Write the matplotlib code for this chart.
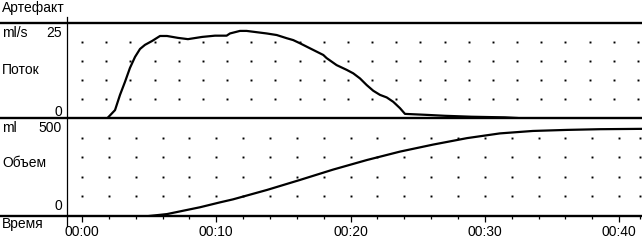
import numpy as np
import matplotlib
matplotlib.use("Agg")
import matplotlib.pyplot as plt
from matplotlib.lines import Line2D

plt.rcParams['font.family'] = ['Liberation Sans', 'DejaVu Sans']

# ---- data ----
flow_t = [1.9, 2.46, 2.83, 3.2, 3.57, 3.95, 4.32, 4.69, 5.21, 5.81, 6.33, 7.15, 7.89,
          8.94, 9.9, 10.77, 11.02, 11.76, 12.26, 13.0, 13.75, 14.5, 15.24, 15.73, 16.23,
          16.98, 17.97, 18.22, 18.96, 19.71, 20.2, 20.7, 21.2, 21.69, 22.19, 22.69, 23.18,
          23.68, 24.05, 25.6, 27.0, 29.0, 31.5, 32.4]
flow_v = [0, 2.5, 7.3, 11.4, 15.8, 19.3, 21.8, 23.1, 24.3, 25.9, 25.9, 25.3, 24.9,
          25.6, 26.0, 26.0, 26.7, 27.5, 27.5, 27.1, 26.7, 26.2, 25.2, 24.6, 23.6,
          22.0, 19.9, 18.9, 16.7, 15.2, 14.1, 12.5, 10.4, 8.6, 7.3, 6.5, 5.1,
          3.1, 1.3, 1.0, 0.7, 0.4, 0.2, 0.0]

vol_t = [5.0, 6.33, 8.79, 10.28, 11.24, 13.78, 16.23, 18.69, 21.22, 23.68, 26.14,
         28.67, 31.12, 33.58, 36.11, 38.57, 41.7]
vol_v = [0, 11, 50, 78, 95, 149, 206, 265, 320, 368, 408, 445, 472, 486, 492, 496, 498]

tick_pos = [0, 10, 20, 30, 40]
tick_labels = ["00:00", "00:10", "00:20", "00:30", "00:40"]

W, H = 642, 241
fig = plt.figure(figsize=(W / 100, H / 100), dpi=100)

xmin, xmax = -1.117, 41.70
left = 67 / W
width = 1 - left
ax1 = fig.add_axes([left, 1 - 118 / H, width, (118 - 23) / H])
ax2 = fig.add_axes([left, 1 - 216 / H, width, (216 - 118) / H])

for ax in (ax1, ax2):
    ax.set_xlim(xmin, xmax)
    for s in ax.spines.values():
        s.set_visible(False)
    ax.patch.set_visible(False)

ax1.set_ylim(0, 30)
ax2.set_ylim(0, 560)

# dot grids
gx1 = np.arange(0, 41.5, 1.8)
gy1 = [6, 12, 18, 24]
X, Y = np.meshgrid(gx1, gy1)
ax1.plot(X.ravel(), Y.ravel(), ls='none', marker='s', ms=1.4, mew=0, color='black')

gx2 = list(np.arange(0, 41, 2)) + [41.55]
gy2 = [112, 224, 336, 448]
X, Y = np.meshgrid(gx2, gy2)
ax2.plot(X.ravel(), Y.ravel(), ls='none', marker='s', ms=1.4, mew=0, color='black')

ax1.plot(flow_t, flow_v, color='black', lw=1.6, solid_joinstyle='round')
ax2.plot(vol_t, vol_v, color='black', lw=1.6, solid_joinstyle='round')

ax1.set_xticks([])
ax1.set_yticks([])
ax2.set_yticks([])
ax2.set_xticks(tick_pos)
ax2.set_xticklabels(tick_labels)
ax2.set_xticks(list(np.arange(0, 41, 2)) + [41.55], minor=True)
ax2.tick_params(axis='x', which='major', direction='out', length=4, width=0.9,
                pad=2.5, labelsize=10, color='black')
ax2.tick_params(axis='x', which='minor', direction='out', length=2, width=0.9,
                color='black')

# frame lines
for yy in (23, 118, 216):
    fig.add_artist(Line2D([0, 1], [1 - yy / H, 1 - yy / H], transform=fig.transFigure,
                          color='black', lw=1.7))
fig.add_artist(Line2D([left, left], [1 - 17 / H, 1 - 226 / H], transform=fig.transFigure,
                      color='black', lw=0.9))

def ftext(x, y, s, ha='left'):
    fig.text(x / W, 1 - y / H, s, ha=ha, va='center', fontsize=10)

ftext(2, 8, "Артефакт")
ftext(2, 33, "ml/s")
ftext(62, 33, "25", 'right')
ftext(2, 70, "Поток")
ftext(62, 112, "0", 'right')
ftext(2, 128, "ml")
ftext(62, 128, "500", 'right')
ftext(2, 163, "Объем")
ftext(62, 206, "0", 'right')
ftext(2, 224, "Время")

fig.savefig("out.png", dpi=100)
